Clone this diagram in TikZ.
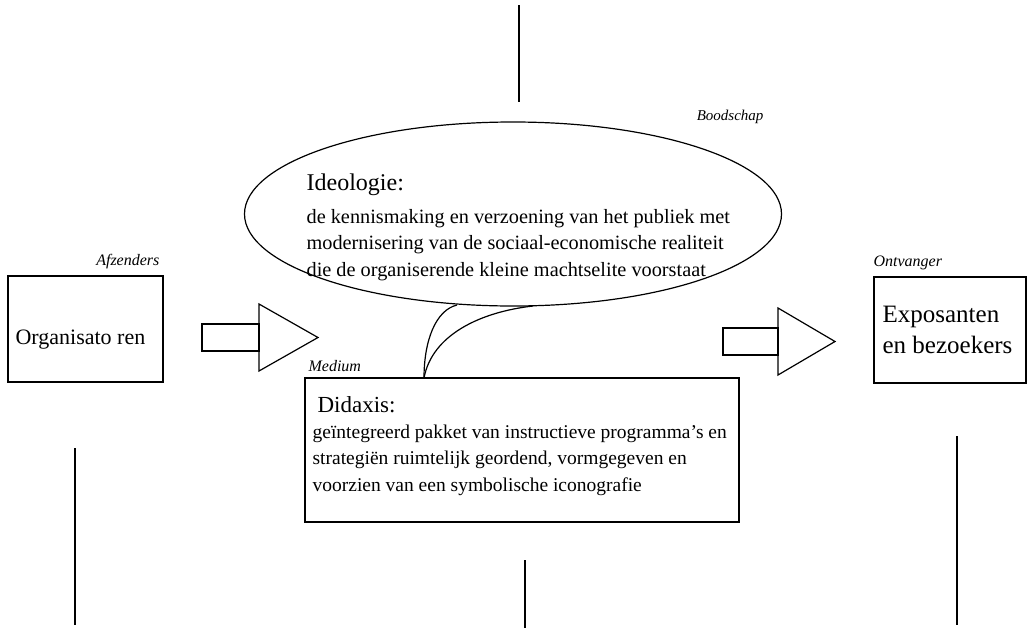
\documentclass[tikz,border=0pt]{standalone}
\usepackage{fontspec}
\setmainfont{Liberation Serif}
\usetikzlibrary{shapes.geometric}
\begin{document}
\begin{tikzpicture}[x=1pt,y=-1pt,line width=1.2pt,
  box/.style={draw,rectangle,inner sep=0pt},
  lab/.style={font=\fontsize{16}{18}\selectfont\itshape,inner sep=0pt},
  big/.style={font=\fontsize{23}{28}\selectfont,inner sep=0pt},
  bigr/.style={font=\fontsize{25}{31}\selectfont,inner sep=0pt,align=left},
  body/.style={font=\fontsize{20.3}{26.5}\selectfont,inner sep=0pt,align=left},
  bodyd/.style={font=\fontsize{19.5}{26.5}\selectfont,inner sep=0pt,align=left},
  thin/.style={line width=1.1pt}]
\useasboundingbox (0,0) rectangle (1030,632);
% frame lines
\draw[thin] (519,5) -- (519,102);
\draw[thin] (75,448) -- (75,625);
\draw[thin] (525,560) -- (525,628);
\draw[thin] (957,436) -- (957,625);
% boxes
\node[box,minimum width=155pt,minimum height=106pt] (org) at (85.5,329) {};
\node[box,minimum width=152pt,minimum height=106pt] (exp) at (950,330) {};
\node[box,minimum width=434pt,minimum height=144pt] (did) at (522,450) {};
\node[draw,ellipse,inner sep=0pt,minimum width=537pt,minimum height=184pt] (ideo) at (513,214) {};
% labels
\node[lab,anchor=base east] (afz) at (160,265) {Afzenders};
\node[lab,anchor=base west] (ont) at (873,266) {Ontvanger};
\node[lab,anchor=base west] (med) at (308,371) {Medium};
\node[lab,font=\fontsize{15}{18}\selectfont\itshape,anchor=base east] (boo) at (764,120) {Boodschap};
% texts
\node[big,font=\fontsize{22}{28}\selectfont,anchor=base west] (orgt) at (15,344) {Organisato ren};
\node[bigr,anchor=base west] (expt) at (882,353) {Exposanten\\en bezoekers};
\node[big,font=\fontsize{24}{28}\selectfont,anchor=base west] (ideot) at (306,190) {Ideologie:};
\node[body,anchor=base west] (ideob) at (306,276) {de kennismaking en verzoening van het publiek met\\modernisering van de sociaal-economische realiteit\\die de organiserende kleine machtselite voorstaat};
\node[big,anchor=base west] (didt) at (317,412) {Didaxis:};
\node[bodyd,anchor=base west] (didb) at (312,491) {geïntegreerd pakket van instructieve programma's en\\strategiën ruimtelijk geordend, vormgegeven en\\voorzien van een symbolische iconografie};
% block arrows
\draw (202,324) rectangle (259,351);
\draw[line join=miter] (259,304) -- (318,337.5) -- (259,371) -- cycle;
\draw (723,328) rectangle (778,355);
\draw[line join=miter] (778,308) -- (835,341.5) -- (778,375) -- cycle;
% speech tail
\coordinate (tail) at (424,378);
\coordinate (tl) at (457,305);
\coordinate (tr) at (533,306);
\draw (tail) .. controls (424,340) and (436,310) .. (tl);
\draw (tail) .. controls (432,335) and (480,312) .. (tr);
\end{tikzpicture}
\end{document}
